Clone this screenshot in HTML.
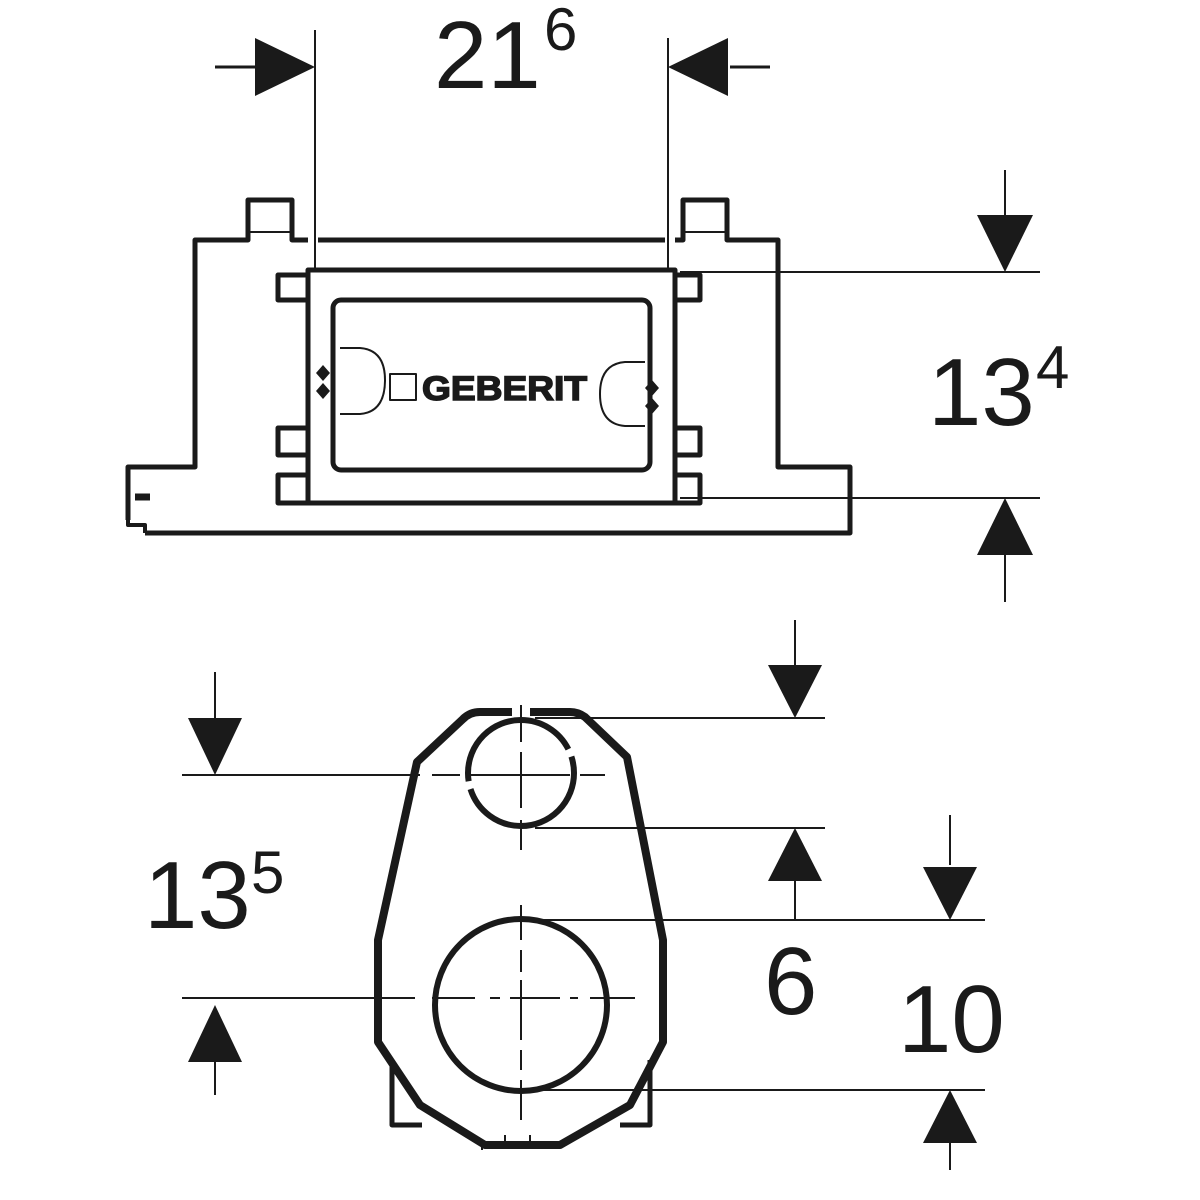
<!DOCTYPE html>
<html><head><style>
html,body{margin:0;padding:0;background:#fff;}
svg{display:block;}
text{font-family:"Liberation Sans",sans-serif;fill:#1a1a1a;}
</style></head><body>
<svg width="1200" height="1200" viewBox="0 0 1200 1200" xmlns="http://www.w3.org/2000/svg">
<g fill="none" stroke="#1a1a1a" stroke-linejoin="round">
<!-- top figure outer body -->
<path d="M308,240 H292 V200 H248 V240 H195 V467 H128 V520 M145,533 H850 V520 M850,525 V467 H778 V240 H727 V200 H683 V240 H675 M318,240 H665" stroke-width="5"/>
<path d="M128,470 V525 H145 V533" stroke-width="4"/>
<path d="M135,497 H150" stroke-width="7"/>
<line x1="250" y1="232" x2="290" y2="232" stroke-width="2"/>
<line x1="685" y1="232" x2="725" y2="232" stroke-width="2"/>
<!-- inner frame -->
<rect x="308" y="270" width="367" height="233" stroke-width="5"/>
<path d="M308,275 H278 V300 H308 M308,428 H278 V455 H308 M308,475 H278 V503 H308" stroke-width="5"/>
<path d="M675,275 H700 V300 H675 M675,428 H700 V455 H675 M675,475 H700 V503 H675" stroke-width="5"/>
<rect x="333" y="300" width="317" height="170" rx="8" stroke-width="5"/>
<path d="M340,348 H360 Q385,350 385,380 Q385,412 360,414 H340" stroke-width="2"/>
<path d="M645,362 H625 Q600,364 600,394 Q600,424 625,426 H645" stroke-width="2"/>
<rect x="390" y="374" width="26" height="26" stroke-width="2"/>
<!-- top dimension -->
<path d="M315,30 V270 M668,38 V270" stroke-width="2"/>
<path d="M215,67 H260 M730,67 H770" stroke-width="3"/>
<path d="M680,272 H1040 M680,498 H1040" stroke-width="2"/>
<path d="M1005,170 V220 M1005,550 V602" stroke-width="2"/>
<!-- bottom figure -->
<path d="M512,712 H480 Q470,712 463,719 L417,762 L378,940 V1042 L420,1105 L485,1145 H560 L630,1105 L663,1042 V940 L627,757 L585,717 Q578,712 570,712 H530" stroke-width="8"/>
<path d="M392,1060 V1125 H422 M650,1060 V1125 H620" stroke-width="5"/>
<path d="M482,1145 V1150 M505,1135 V1145 M530,1135 V1145" stroke-width="2"/>
<circle cx="521" cy="773" r="53" stroke-width="6" stroke-dasharray="150 8 150 8"/>
<circle cx="521" cy="1005" r="86" stroke-width="6"/>
<g stroke-width="2">
<path d="M182,775 H420 M432,775 H460 M470,775 H570 M580,775 H605"/>
<path d="M182,998 H415 M432,998 H475 M490,998 H500 M510,998 H560 M570,998 H578 M590,998 H635"/>
<path d="M521,705 V742 M521,752 V808 M521,820 V850 M521,905 V940 M521,950 V972 M521,980 V1040 M521,1050 V1070 M521,1080 V1120"/>
<path d="M535,718 H825 M535,828 H825 M535,920 H985 M535,1090 H985"/>
<path d="M795,620 V668 M795,878 V920 M950,815 V865 M950,1140 V1170 M215,672 V720 M215,1060 V1095"/>
</g>
</g>
<g fill="#1a1a1a">
<polygon points="315,67 255,38 255,96"/>
<polygon points="668,67 728,38 728,96"/>
<polygon points="1005,272 977,215 1033,215"/>
<polygon points="1005,498 977,555 1033,555"/>
<polygon points="795,718 768,665 822,665"/>
<polygon points="795,828 768,881 822,881"/>
<polygon points="950,920 923,867 977,867"/>
<polygon points="950,1090 923,1143 977,1143"/>
<polygon points="215,775 188,718 242,718"/>
<polygon points="215,1005 188,1062 242,1062"/>
<polygon points="323,365 316,373 323,381 330,373"/>
<polygon points="323,383 316,391 323,399 330,391"/>
<polygon points="652,380 645,388 652,396 659,388"/>
<polygon points="652,398 645,406 652,414 659,406"/>
</g>
<text x="422" y="400" font-size="34" font-weight="bold" fill="#fff" stroke="#1a1a1a" stroke-width="1.5" textLength="165" lengthAdjust="spacingAndGlyphs">GEBERIT</text>
<text x="434" y="88" font-size="96">21</text>
<text x="544" y="50" font-size="60">6</text>
<text x="928" y="425" font-size="96">13</text>
<text x="1036" y="388" font-size="60">4</text>
<text x="144" y="928" font-size="96">13</text>
<text x="251" y="893" font-size="60">5</text>
<text x="764" y="1014" font-size="96">6</text>
<text x="898" y="1052" font-size="96">10</text>
</svg>
</body></html>
